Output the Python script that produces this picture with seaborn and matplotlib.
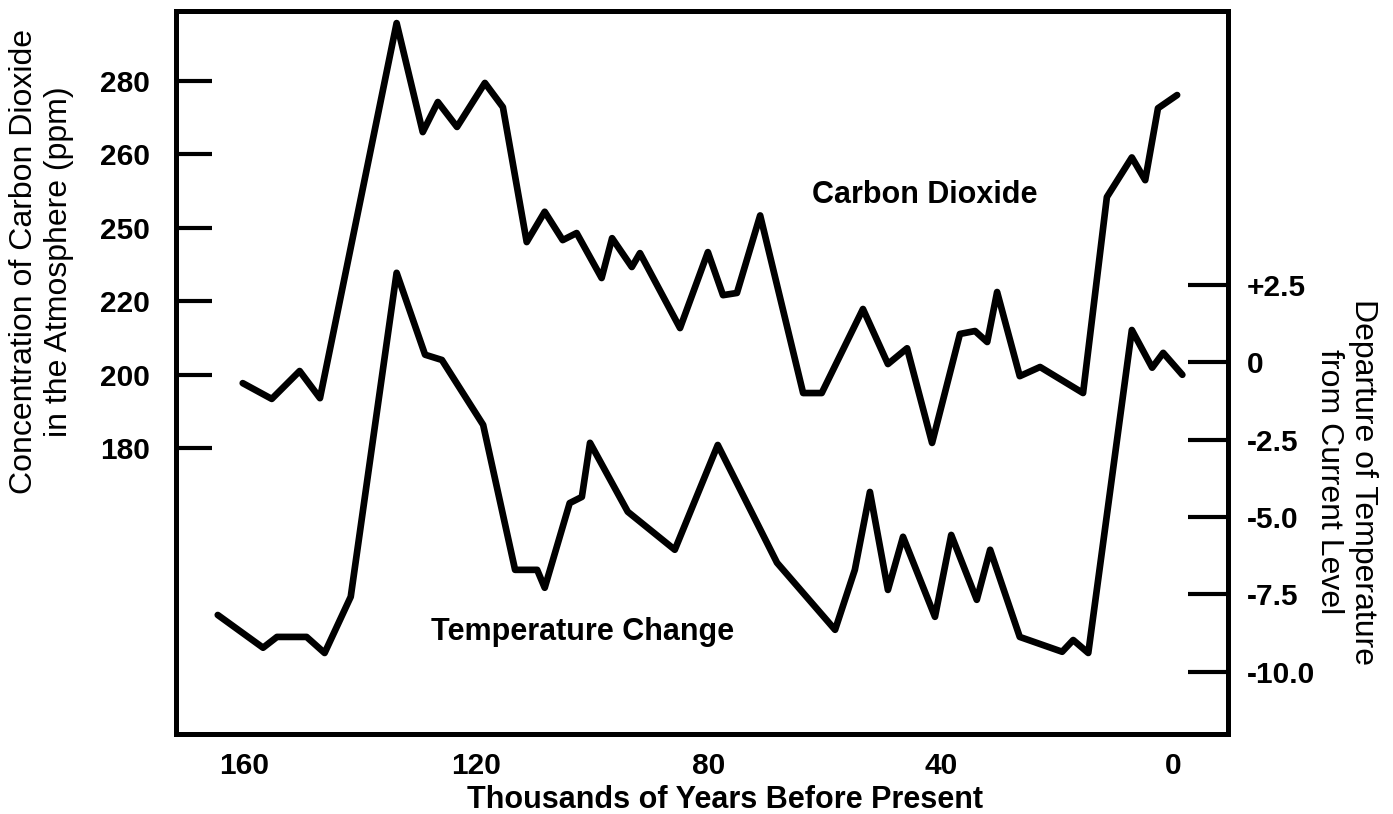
import numpy as np
import matplotlib
matplotlib.use("Agg")
import matplotlib.pyplot as plt
import seaborn as sns

# ---------------------------------------------------------
# DATA (thousands of years before present)
# ---------------------------------------------------------
co2_years = [160.2, 155.2, 150.4, 146.9, 133.7, 129.2, 126.6, 123.3, 118.5, 115.4,
             111.3, 108.2, 105.1, 102.7, 98.4, 96.6, 93.2, 91.8, 84.9, 80.1,
             77.5, 75.1, 71.1, 63.7, 60.5, 53.4, 49.1, 45.8, 41.5, 36.7,
             34.1, 32.0, 30.3, 26.4, 22.9, 15.5, 11.4, 7.1, 4.8, 2.6, -0.7]
co2_ppm = [197.7, 193.4, 201.0, 193.6, 295.8, 266.1, 274.3, 267.5, 279.5, 272.9,
           244.2, 252.2, 245.0, 247.9, 229.5, 245.8, 234.0, 239.7, 212.7, 240.1,
           222.5, 223.4, 251.7, 195.0, 195.0, 217.9, 202.9, 207.2, 181.4, 211.1,
           211.9, 208.9, 223.8, 199.6, 202.1, 195.0, 254.2, 259.6, 256.5, 272.6, 276.2]

temp_years = [164.5, 156.7, 154.3, 149.2, 146.1, 141.6, 133.7, 128.8, 125.9, 118.8,
              113.3, 109.5, 108.2, 103.9, 101.8, 100.4, 93.9, 85.8, 78.4, 68.2,
              58.2, 54.8, 52.2, 49.1, 46.5, 41.0, 38.2, 33.8, 31.5, 26.4,
              19.1, 17.2, 14.6, 7.1, 3.6, 1.7, -1.6]
temp_change = [-8.17, -9.23, -8.88, -8.88, -9.40, -7.58, 2.90, 0.25, 0.08, -2.02,
               -6.71, -6.71, -7.29, -4.55, -4.35, -2.60, -4.83, -6.06, -2.67, -6.48,
               -8.65, -6.71, -4.19, -7.36, -5.64, -8.23, -5.58, -7.68, -6.06, -8.88,
               -9.36, -8.98, -9.40, 1.05, -0.17, 0.31, -0.40]

co2_ticks = [180, 200, 220, 250, 260, 280]
temp_ticks = [2.5, 0, -2.5, -5.0, -7.5, -10.0]
temp_labels = ["+2.5", "0", "-2.5", "-5.0", "-7.5", "-10.0"]
year_ticks = [160, 120, 80, 40, 0]
year_minor = [140, 100, 60, 20]

# ---------------------------------------------------------
# STYLE
# ---------------------------------------------------------
sns.set_style("white")
plt.rcParams["font.family"] = ["Liberation Sans", "DejaVu Sans"]
plt.rcParams["font.weight"] = "bold"
plt.rcParams["text.color"] = "black"
plt.rcParams["axes.labelcolor"] = "black"

# the CO2 axis is evenly spaced between uneven tick values, so use a
# piecewise scale (outer segments keep 20 ppm per step)
co2_pos = np.arange(len(co2_ticks), dtype=float)


def co2_forward(v):
    v = np.asarray(v, dtype=float)
    out = np.interp(v, co2_ticks, co2_pos)
    out = np.where(v > co2_ticks[-1], co2_pos[-1] + (v - co2_ticks[-1]) / 20.0, out)
    out = np.where(v < co2_ticks[0], (v - co2_ticks[0]) / 20.0, out)
    return out


def co2_inverse(p):
    p = np.asarray(p, dtype=float)
    out = np.interp(p, co2_pos, co2_ticks)
    out = np.where(p > co2_pos[-1], co2_ticks[-1] + (p - co2_pos[-1]) * 20.0, out)
    out = np.where(p < 0, co2_ticks[0] + p * 20.0, out)
    return out


fig = plt.figure(figsize=(13.93, 8.14), dpi=100)
ax = fig.add_axes([0.1263, 0.0983, 0.7553, 0.8882])
ax2 = ax.twinx()

line_kw = dict(color="black", linewidth=4.8, solid_joinstyle="round", sort=False,
               estimator=None)
sns.lineplot(x=co2_years, y=co2_ppm, ax=ax, **line_kw)
sns.lineplot(x=temp_years, y=temp_change, ax=ax2, **line_kw)

ax.set_yscale("function", functions=(co2_forward, co2_inverse))
ax.set_xlim(171.7, -9.47)
ax.set_ylim(102.1, 299.1)
ax2.set_ylim(-12.02, 11.37)

ax.set_xticks(year_ticks)
ax.set_xticks(year_minor, minor=True)
ax.set_xticklabels([str(t) for t in year_ticks])
ax.set_yticks(co2_ticks)
ax.set_yticklabels([str(t) for t in co2_ticks])
ax.yaxis.set_minor_locator(matplotlib.ticker.NullLocator())
ax2.set_yticks(temp_ticks)
ax2.set_yticklabels(temp_labels)

ax.tick_params(axis="y", direction="in", length=26, width=3, pad=18.7,
               labelsize=21.5, colors="black")
ax.tick_params(axis="x", which="major", direction="in", length=14.4, width=3,
               pad=13, labelsize=21.5, colors="black")
ax.tick_params(axis="x", which="minor", direction="in", length=8.6, width=3)
ax2.tick_params(axis="y", direction="in", length=29, width=3, pad=13.7,
                labelsize=21.5, colors="black")

for a in (ax, ax2):
    for s in a.spines.values():
        s.set_linewidth(3.6)
        s.set_color("black")

ax.set_xlabel("Thousands of Years Before Present", fontsize=22, fontweight="bold",
              va="center")
ax.xaxis.set_label_coords(0.522, -0.0913)
ax.set_ylabel("Concentration of Carbon Dioxide\nin the Atmosphere (ppm)",
              fontsize=23, fontweight="normal", va="center", linespacing=1.2)
ax.yaxis.set_label_coords(-0.1275, 0.653)
ax2.set_ylabel("Departure of Temperature\nfrom Current Level", fontsize=23,
               fontweight="normal", rotation=270, va="center", linespacing=1.15)
ax2.yaxis.set_label_coords(1.112, 0.3485)

ax.text(42.7, 253.4, "Carbon Dioxide", fontsize=22, fontweight="bold",
        ha="center", va="baseline")
ax2.text(101.6, -8.97, "Temperature Change", fontsize=22, fontweight="bold",
         ha="center", va="baseline")

fig.savefig("out.png", dpi=100)
